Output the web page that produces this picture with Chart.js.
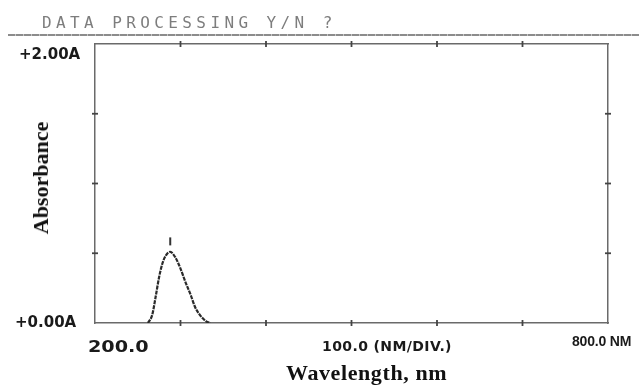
<!DOCTYPE html>
<html>
<head>
<meta charset="utf-8">
<script src="https://cdn.jsdelivr.net/npm/chart.js@4/dist/chart.umd.min.js"></script>
<style>
  html, body { margin: 0; padding: 0; background: #fff; }
  #wrap { position: relative; width: 639px; height: 387px; overflow: hidden; background: #fff; }
  #c { position: absolute; left: 0; top: 0; }
  .t { position: absolute; white-space: nowrap; line-height: 1; }
  #title { left: 42px; top: 15px; font-family: "DejaVu Sans Mono", monospace; font-size: 16px; letter-spacing: 4.4px; color: #7d7d7d; }
  #hline { position: absolute; left: 8px; top: 34px; width: 631px; height: 2px;
           background: repeating-linear-gradient(90deg, #8c8c8c 0 7px, #c4c4c4 7px 8px); }
  .ylab { font-family: "DejaVu Sans", sans-serif; font-weight: bold; font-size: 15px; color: #1a1a1a; }
  #yTop { left: 19px; top: 47px; }
  #yBot { left: 15px; top: 315px; }
  #x200 { left: 88px; top: 339px; font-family: "DejaVu Sans", sans-serif; font-weight: bold; font-size: 16px; color: #1a1a1a; transform: scaleX(1.2); transform-origin: left top; }
  #xMid { left: 322px; top: 339px; font-family: "DejaVu Sans", sans-serif; font-weight: bold; font-size: 14px; letter-spacing: 0.4px; color: #1a1a1a; }
  #x800 { left: 572px; top: 334px; font-family: "Liberation Sans", Arial, sans-serif; font-weight: bold; font-size: 14px; letter-spacing: -0.2px; color: #1a1a1a; }
  #xTitle { left: 286px; top: 362px; font-family: "Liberation Serif", "Times New Roman", serif; font-weight: bold; font-size: 22px; letter-spacing: 0.6px; color: #111; }
  #yTitle { left: 41px; top: 178px; font-family: "Liberation Serif", "Times New Roman", serif; font-weight: bold; font-size: 22px; color: #111;
            transform: translate(-50%, -50%) rotate(-90deg); }
</style>
</head>
<body>
<div id="wrap">
  <canvas id="c" width="639" height="387"></canvas>
  <div id="hline"></div>
  <div class="t" id="title"></div>
  <div class="t ylab" id="yTop"></div>
  <div class="t ylab" id="yBot"></div>
  <div class="t" id="x200"></div>
  <div class="t" id="xMid"></div>
  <div class="t" id="x800"></div>
  <div class="t" id="xTitle"></div>
  <div class="t" id="yTitle"></div>
</div>
<script>
// ---- data ----
const titleText = "DATA PROCESSING Y/N ?";
const xAxisTitle = "Wavelength, nm";
const yAxisTitle = "Absorbance";
const yTickLabels = ["+0.00A", "+2.00A"];
const xTickLabels = ["200.0", "100.0 (NM/DIV.)", "800.0 NM"];
const xRange = [200, 800];
const xStep = 100;
const yRange = [0, 2];
const yStep = 0.5;
const wavelengths = [262, 267, 271, 275, 279, 283, 288, 294, 300, 306, 312, 317, 323, 330, 335];
const absorbance  = [0.00, 0.06, 0.19, 0.33, 0.43, 0.485, 0.51, 0.47, 0.39, 0.29, 0.20, 0.115, 0.055, 0.012, 0.00];
const peakMarkerX = [288];
const peakMarkerY = [0.585];

// ---- text ----
document.getElementById('title').textContent = titleText;
document.getElementById('yBot').textContent = yTickLabels[0];
document.getElementById('yTop').textContent = yTickLabels[1];
document.getElementById('x200').textContent = xTickLabels[0];
document.getElementById('xMid').textContent = xTickLabels[1];
document.getElementById('x800').textContent = xTickLabels[2];
document.getElementById('xTitle').textContent = xAxisTitle;
document.getElementById('yTitle').textContent = yAxisTitle;

const curve = wavelengths.map((w, i) => ({ x: w, y: absorbance[i] }));
const marker = peakMarkerX.map((w, i) => ({ x: w, y: peakMarkerY[i] }));

const borderStyle = { display: true, color: '#6a6a6a', width: 1.5, dash: [4, 1] };
const noGrid = { display: false };

// cross-shaped tick marks on all four borders
const crossTicks = {
  id: 'crossTicks',
  afterDraw(chart) {
    const ctx = chart.ctx;
    const a = chart.chartArea;
    ctx.save();
    ctx.strokeStyle = '#444';
    ctx.lineWidth = 1.8;
    const L = 3;
    ['x', 'x2'].forEach(id => {
      const s = chart.scales[id];
      const yb = id === 'x' ? a.bottom : a.top;
      s.ticks.forEach(t => {
        if (t.value <= xRange[0] || t.value >= xRange[1]) return;
        const px = s.getPixelForValue(t.value);
        ctx.beginPath(); ctx.moveTo(px, yb - L); ctx.lineTo(px, yb + L); ctx.stroke();
      });
    });
    ['y', 'y2'].forEach(id => {
      const s = chart.scales[id];
      const xb = id === 'y' ? a.left : a.right;
      s.ticks.forEach(t => {
        if (t.value <= yRange[0] || t.value >= yRange[1]) return;
        const py = s.getPixelForValue(t.value);
        ctx.beginPath(); ctx.moveTo(xb - L, py); ctx.lineTo(xb + L, py); ctx.stroke();
      });
    });
    ctx.restore();
  }
};

new Chart(document.getElementById('c'), {
  type: 'scatter',
  data: {
    datasets: [
      {
        data: curve,
        showLine: true,
        borderColor: '#2a2a2a',
        borderWidth: 2.2,
        borderDash: [4, 1],
        pointRadius: 0,
        cubicInterpolationMode: 'monotone',
        fill: false
      },
      {
        data: marker,
        showLine: false,
        pointStyle: 'line',
        rotation: 90,
        pointRadius: 4,
        borderColor: '#333',
        borderWidth: 2,
        backgroundColor: '#333'
      }
    ]
  },
  options: {
    responsive: false,
    animation: false,
    events: [],
    layout: { padding: 0 },
    plugins: { legend: { display: false }, tooltip: { enabled: false }, title: { display: false } },
    scales: {
      x: {
        type: 'linear', position: 'bottom', min: xRange[0], max: xRange[1],
        ticks: { display: false, stepSize: xStep },
        grid: noGrid, border: borderStyle,
        afterFit: s => { s.height = 64; }
      },
      x2: {
        type: 'linear', position: 'top', min: xRange[0], max: xRange[1],
        ticks: { display: false, stepSize: xStep },
        grid: noGrid, border: borderStyle,
        afterFit: s => { s.height = 44; }
      },
      y: {
        type: 'linear', position: 'left', min: yRange[0], max: yRange[1],
        ticks: { display: false, stepSize: yStep },
        grid: noGrid, border: borderStyle,
        afterFit: s => { s.width = 95; }
      },
      y2: {
        type: 'linear', position: 'right', min: yRange[0], max: yRange[1],
        ticks: { display: false, stepSize: yStep },
        grid: noGrid, border: borderStyle,
        afterFit: s => { s.width = 31; }
      }
    }
  },
  plugins: [crossTicks]
});
</script>
</body>
</html>
